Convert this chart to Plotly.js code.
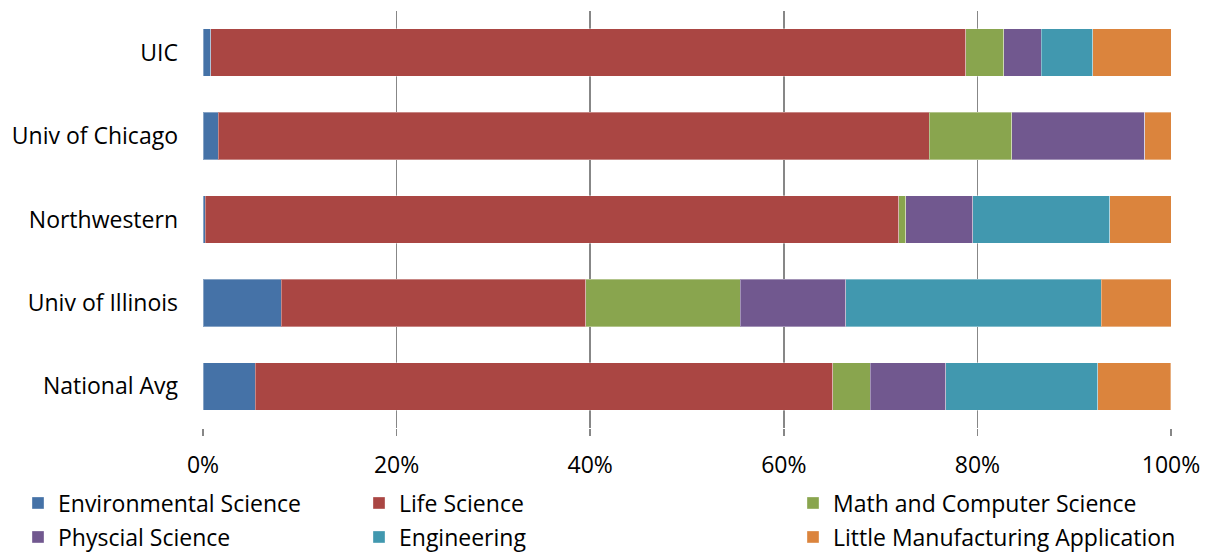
<!DOCTYPE html>
<html>
<head>
<meta charset="utf-8">
<script src="https://cdn.plot.ly/plotly-3.0.1.min.js"></script>
<style>html,body{margin:0;padding:0;background:#fff;}#chart{width:1225px;height:552px;}</style>
</head>
<body>
<div id="chart"></div>
<script>
const categories = ["UIC", "Univ of Chicago", "Northwestern", "Univ of Illinois", "National Avg"];
const seriesNames = ["Environmental Science", "Life Science", "Math and Computer Science", "Physcial Science", "Engineering", "Little Manufacturing Application"];
const environmental = [0.8, 1.55, 0.25, 8.06, 5.4];
const lifeScience = [78.0, 73.5, 71.65, 31.5, 59.65];
const mathCS = [3.9, 8.5, 0.7, 15.95, 3.9];
const physical = [3.9, 13.75, 6.9, 10.9, 7.8];
const engineering = [5.3, 0, 14.15, 26.4, 15.7];
const littleMfg = [8.1, 2.7, 6.35, 7.2, 7.5];
const tickVals = [0, 20, 40, 60, 80, 100];
const tickText = ["0%", "20%", "40%", "60%", "80%", "100%"];

const colors = ["#4572A7", "#AA4643", "#89A54E", "#71588F", "#4198AF", "#DB843D"];
const values = [environmental, lifeScience, mathCS, physical, engineering, littleMfg];
const legendIds = ["legend", "legend2", "legend3", "legend4", "legend5", "legend6"];
const FONT = "'Open Sans', Lato, sans-serif";
const FS = 23;

const traces = values.map((v, i) => ({
  type: "bar",
  orientation: "h",
  name: seriesNames[i],
  y: categories,
  x: v,
  marker: {color: colors[i], line: {color: "rgba(255,255,255,0.35)", width: 1}},
  legend: legendIds[i],
  hoverinfo: "x+y+name"
}));

// legend positions (container pixels): col x, row y
const legX = [32, 373, 807, 32, 373, 807];
const legY = [503, 503, 503, 537, 537, 537];
const layout = {
  width: 1225, height: 552,
  margin: {l: 203, r: 54, t: 11, b: 124, autoexpand: false},
  paper_bgcolor: "#fff", plot_bgcolor: "#fff",
  font: {family: FONT, size: FS, color: "#000"},
  barmode: "stack",
  bargap: 0.43,
  showlegend: true,
  xaxis: {
    range: [0, 100], tickvals: tickVals, ticktext: tickText,
    showgrid: true, gridcolor: "#878787", gridwidth: 1.6,
    zeroline: false, showline: false,
    ticks: "outside", ticklen: 7, tickcolor: "#878787", tickwidth: 1.6,
    ticklabelstandoff: 9,
    tickfont: {family: FONT, size: FS, color: "#000"}, fixedrange: true
  },
  yaxis: {
    autorange: "reversed", type: "category",
    showgrid: false, zeroline: false, showline: false, ticks: "",
    ticklabelstandoff: 24,
    tickfont: {family: FONT, size: FS, color: "#000"}, fixedrange: true
  }
};
legendIds.forEach((id, i) => {
  layout[id] = {
    xref: "container", yref: "container",
    x: (legX[i] - 14) / 1225, y: 1 - legY[i] / 552,
    xanchor: "left", yanchor: "middle",
    orientation: "v", bgcolor: "rgba(0,0,0,0)", borderwidth: 0,
    font: {family: FONT, size: FS, color: "#000"}
  };
});
Plotly.newPlot("chart", traces, layout, {displayModeBar: false, staticPlot: true});
</script>
</body>
</html>
